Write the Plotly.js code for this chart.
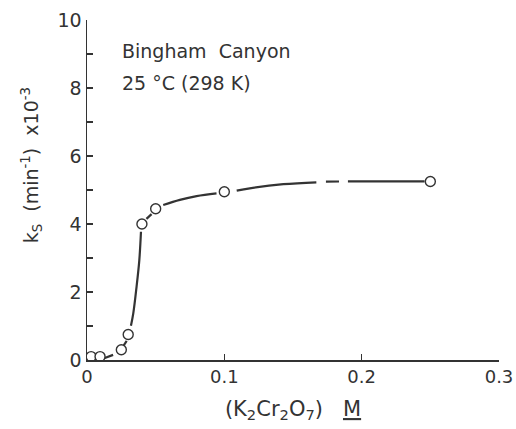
<!DOCTYPE html>
<html>
<head>
<meta charset="utf-8">
<script src="https://cdn.plot.ly/plotly-3.0.1.min.js"></script>
<style>html,body{margin:0;padding:0;background:#fff}#chart{width:516px;height:429px}</style>
</head>
<body>
<div id="chart"></div>
<script>
// Measured points: K2Cr2O7 concentration (M) vs ks (min^-1 x10^-3)
const concentration = [0.003, 0.0095, 0.025, 0.03, 0.04, 0.05, 0.1, 0.25];
const ks = [0.1, 0.1, 0.3, 0.75, 4.0, 4.45, 4.95, 5.25];

// Hand-drawn curve (null = gap in the drawn line)
const curveX = [0.0125, 0.019, null,
  0.0264, 0.0289, null,
  0.032, 0.0337, 0.0361, 0.0381, 0.0393, null,
  0.0433, 0.047, null,
  0.0555, 0.0676, 0.0798, 0.0943, null,
  0.109, 0.1185, 0.143, 0.167, null,
  0.174, 0.1835, null,
  0.19, 0.2458];
const curveY = [0.05, 0.15, null,
  0.41, 0.56, null,
  1.01, 1.37, 2.16, 2.94, 3.77, null,
  4.15, 4.29, null,
  4.56, 4.71, 4.82, 4.90, null,
  4.98, 5.05, 5.17, 5.225, null,
  5.245, 5.25, null,
  5.255, 5.255];

const xTicks = [0, 0.1, 0.2, 0.3];
const xTickText = ['0', '0.1', '0.2', '0.3'];
const yTicks = [0, 1, 2, 3, 4, 5, 6, 7, 8, 9, 10];
const yTickText = ['0', '', '2', '', '4', '', '6', '', '8', '', '10'];

const ink = '#333';
const fontFam = '"DejaVu Sans", sans-serif';

const traces = [
  {x: curveX, y: curveY, mode: 'lines', line: {color: ink, width: 2.2, shape: 'spline'},
   connectgaps: false, hoverinfo: 'skip', showlegend: false},
  {x: concentration, y: ks, mode: 'markers',
   marker: {symbol: 'circle', size: 10, color: '#fff', line: {color: ink, width: 1.4}},
   showlegend: false}
];

const layout = {
  width: 516, height: 429,
  margin: {l: 87, r: 17, t: 20, b: 69},
  paper_bgcolor: '#fff', plot_bgcolor: '#fff',
  font: {family: fontFam, color: ink, size: 18},
  showlegend: false,
  xaxis: {
    range: [0, 0.3], tickvals: xTicks, ticktext: xTickText,
    ticks: 'inside', ticklen: 6, tickwidth: 1.3, tickcolor: ink,
    showline: true, linecolor: ink, linewidth: 1.5,
    showgrid: false, zeroline: false,
    tickfont: {size: 18, family: fontFam, color: ink},
    title: {text: '(K<sub>2</sub>Cr<sub>2</sub>O<sub>7</sub>)   <u>M</u>', font: {size: 21, family: fontFam, color: ink}, standoff: 15}
  },
  yaxis: {
    range: [0, 10], tickvals: yTicks, ticktext: yTickText,
    ticks: 'inside', ticklen: 6, tickwidth: 1.3, tickcolor: ink,
    showline: true, linecolor: ink, linewidth: 1.5,
    showgrid: false, zeroline: false,
    tickfont: {size: 19, family: fontFam, color: ink}
  },
  annotations: [
    {xref: 'paper', yref: 'paper', x: -0.135, y: 0.574, xanchor: 'center', yanchor: 'middle',
     text: 'k<sub>S</sub>  (min<sup>-1</sup>)  x10<sup>-3</sup>', textangle: -90, showarrow: false,
     font: {size: 19, family: fontFam, color: ink}},
    {xref: 'paper', yref: 'paper', x: 0.08, y: 0.909, xanchor: 'left', yanchor: 'middle',
     text: 'Bingham  Canyon', showarrow: false, font: {size: 19, family: fontFam, color: ink}},
    {xref: 'paper', yref: 'paper', x: 0.08, y: 0.815, xanchor: 'left', yanchor: 'middle',
     text: '25 °C (298 K)', showarrow: false, font: {size: 19, family: fontFam, color: ink}}
  ]
};

Plotly.newPlot('chart', traces, layout, {staticPlot: true, displayModeBar: false});
</script>
</body>
</html>
